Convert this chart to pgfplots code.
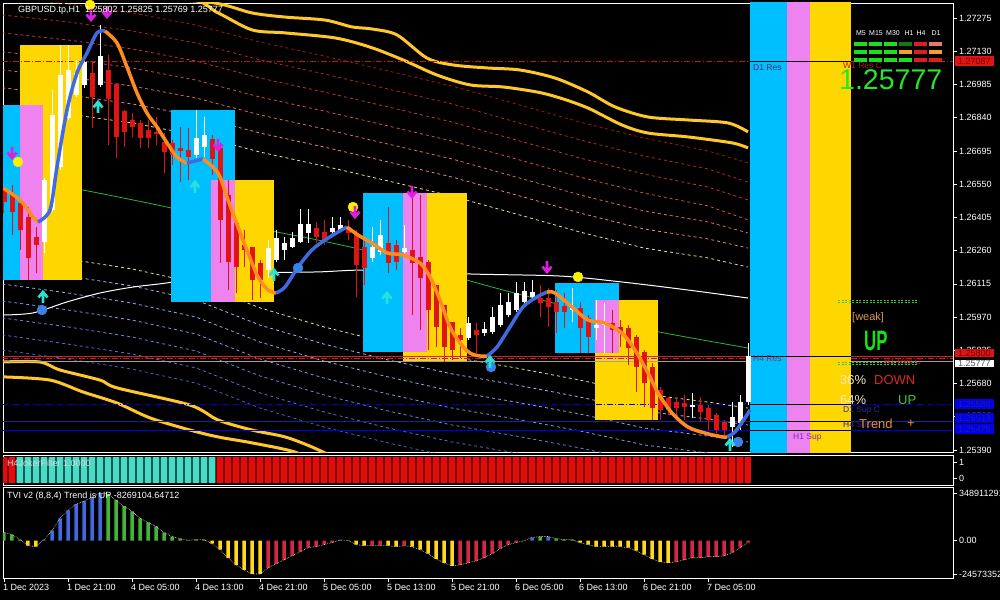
\documentclass[border=0pt]{standalone}
\usepackage{fontspec}
\setmainfont{Liberation Sans}
\usepackage{pgfplots}
\pgfplotsset{compat=1.18}
\usepackage{pgfplotstable}

\definecolor{bxcyan}{RGB}{0,191,255}
\definecolor{bxmag}{RGB}{238,130,238}
\definecolor{bxyel}{RGB}{255,215,0}
\definecolor{cred}{RGB}{225,20,20}
\definecolor{maor}{RGB}{255,140,30}
\definecolor{mabl}{RGB}{65,105,225}
\definecolor{bandy}{RGB}{255,200,40}
\definecolor{khak}{RGB}{235,225,140}
\definecolor{ra}{RGB}{240,128,128}
\definecolor{rb}{RGB}{228,100,100}
\definecolor{rc}{RGB}{215,75,75}
\definecolor{rd}{RGB}{200,50,50}
\definecolor{re}{RGB}{185,35,35}
\definecolor{rf}{RGB}{170,20,20}
\definecolor{ba}{RGB}{160,185,235}
\definecolor{bb}{RGB}{140,170,230}
\definecolor{bc}{RGB}{120,155,225}
\definecolor{bd}{RGB}{100,135,220}
\definecolor{be}{RGB}{85,115,210}
\definecolor{bf}{RGB}{70,95,200}
\definecolor{grn}{RGB}{50,180,50}
\definecolor{arrmag}{RGB}{225,30,225}
\definecolor{arrcyan}{RGB}{40,225,215}
\definecolor{dotyel}{RGB}{255,240,0}
\definecolor{dotblue}{RGB}{60,130,230}
\definecolor{jred}{RGB}{230,10,10}
\definecolor{jredd}{RGB}{110,0,0}
\definecolor{jcyan}{RGB}{72,220,200}
\definecolor{jcyand}{RGB}{20,90,80}
\definecolor{tvib}{RGB}{65,105,225}
\definecolor{tvig}{RGB}{70,180,60}
\definecolor{tviy}{RGB}{255,215,30}
\definecolor{tvir}{RGB}{210,40,70}

\pgfdeclareplotmark{darr}{%
 \pgfpathmoveto{\pgfqpoint{0pt}{6pt}}\pgfpathlineto{\pgfqpoint{0pt}{-4pt}}%
 \pgfpathmoveto{\pgfqpoint{-4.5pt}{0.5pt}}\pgfpathlineto{\pgfqpoint{0pt}{-5pt}}\pgfpathlineto{\pgfqpoint{4.5pt}{0.5pt}}%
 \pgfusepathqstroke}
\pgfdeclareplotmark{uarr}{%
 \pgfpathmoveto{\pgfqpoint{0pt}{-6pt}}\pgfpathlineto{\pgfqpoint{0pt}{4pt}}%
 \pgfpathmoveto{\pgfqpoint{-4.5pt}{-0.5pt}}\pgfpathlineto{\pgfqpoint{0pt}{5pt}}\pgfpathlineto{\pgfqpoint{4.5pt}{-0.5pt}}%
 \pgfusepathqstroke}

\pgfplotstableread{
x ub r1 r2 r3 r4 r5 r6 lb b1 b2 b3 b4 b5 b6
-0.2 1.26887 1.26970 1.27048 1.27127 1.27210 1.27288 1.27367 1.26263 1.26188 1.26114 1.26040 1.25966 1.25892 1.25826
8 1.26856 1.26939 1.27018 1.27096 1.27179 1.27258 1.27336 1.26223 1.26149 1.26075 1.26001 1.25927 1.25852 1.25787
16 1.26817 1.26900 1.26978 1.27057 1.27140 1.27218 1.27297 1.26180 1.26106 1.26031 1.25957 1.25883 1.25809 1.25743
24 1.26764 1.26847 1.26926 1.27004 1.27087 1.27166 1.27244 1.26119 1.26044 1.25970 1.25896 1.25822 1.25748 1.25682
32 1.26690 1.26773 1.26852 1.26930 1.27013 1.27092 1.27170 1.26010 1.25935 1.25861 1.25787 1.25713 1.25639 1.25573
40 1.26629 1.26712 1.26791 1.26869 1.26952 1.27031 1.27109 1.25927 1.25852 1.25778 1.25704 1.25630 1.25556 1.25490
48 1.26564 1.26647 1.26725 1.26804 1.26887 1.26965 1.27044 1.25857 1.25783 1.25709 1.25634 1.25560 1.25486 1.25421
56 1.26498 1.26581 1.26660 1.26738 1.26821 1.26900 1.26978 1.25796 1.25722 1.25647 1.25573 1.25499 1.25425 1.25359
64 1.26420 1.26503 1.26581 1.26660 1.26743 1.26821 1.26900 1.25748 1.25674 1.25599 1.25525 1.25451 1.25377 1.25311
72 1.26341 1.26424 1.26503 1.26581 1.26664 1.26743 1.26821 1.25695 1.25621 1.25547 1.25473 1.25399 1.25325 1.25259
80 1.26271 1.26354 1.26433 1.26511 1.26594 1.26673 1.26751 1.25634 1.25560 1.25486 1.25412 1.25338 1.25263 1.25198
88 1.26228 1.26311 1.26385 1.26455 1.26537 1.26616 1.26695 1.25599 1.25525 1.25451 1.25377 1.25303 1.25229 1.25163
93 1.26188 1.26271 1.26337 1.26394 1.26481 1.26559 1.26642 1.25573 1.25499 1.25425 1.25351 1.25277 1.25202 1.25137
}\bands

\pgfplotstableread{
i o h l c
5 1.26298 1.26577 1.26250 1.26568
6 1.26437 1.26961 1.26428 1.26852
7 1.26625 1.27157 1.26612 1.27026
8 1.26839 1.27157 1.26830 1.27048
9 1.26939 1.27092 1.26930 1.27035
10 1.26983 1.27114 1.26970 1.27083
12 1.26983 1.27244 1.26974 1.27109
24 1.26677 1.26874 1.26664 1.26751
25 1.26712 1.26843 1.26668 1.26764
33 1.26175 1.26306 1.26140 1.26271
34 1.26219 1.26350 1.26210 1.26315
35 1.26263 1.26319 1.26219 1.26293
36 1.26276 1.26341 1.26271 1.26315
37 1.26298 1.26442 1.26293 1.26376
38 1.26337 1.26442 1.26293 1.26376
41 1.26341 1.26407 1.26328 1.26359
42 1.26350 1.26407 1.26341 1.26372
46 1.26228 1.26363 1.26210 1.26276
47 1.26254 1.26394 1.26241 1.26328
50 1.26254 1.26372 1.26241 1.26271
58 1.25879 1.25970 1.25870 1.25944
60 1.25900 1.25948 1.25887 1.25918
61 1.25905 1.26014 1.25896 1.25970
62 1.25935 1.26075 1.25927 1.26023
63 1.25979 1.26075 1.25970 1.26036
64 1.26001 1.26123 1.25992 1.26075
65 1.26036 1.26123 1.26023 1.26084
66 1.26058 1.26132 1.26044 1.26079
71 1.26001 1.26097 1.25948 1.26010
74 1.25922 1.26044 1.25870 1.25935
75 1.25935 1.26031 1.25813 1.25944
86 1.25578 1.25639 1.25530 1.25586
91 1.25490 1.25599 1.25403 1.25534
92 1.25508 1.25630 1.25477 1.25599
93 1.25599 1.25857 1.25586 1.25802
}\up

\pgfplotstableread{
i o h l c
0 1.26524 1.26537 1.26424 1.26472
1 1.26511 1.26546 1.26328 1.26428
2 1.26468 1.26481 1.26263 1.26350
3 1.26407 1.26450 1.26132 1.26228
4 1.26319 1.26363 1.26162 1.26284
11 1.27035 1.27083 1.26795 1.26930
13 1.27048 1.27114 1.26721 1.26922
14 1.26987 1.26991 1.26664 1.26756
15 1.26869 1.26874 1.26712 1.26778
16 1.26830 1.26860 1.26756 1.26799
17 1.26817 1.26830 1.26708 1.26751
18 1.26786 1.26830 1.26708 1.26751
19 1.26778 1.26843 1.26721 1.26769
20 1.26734 1.26773 1.26599 1.26690
21 1.26730 1.26743 1.26634 1.26677
22 1.26708 1.26799 1.26559 1.26695
23 1.26699 1.26795 1.26568 1.26668
26 1.26747 1.26764 1.26590 1.26660
27 1.26708 1.26730 1.26206 1.26394
28 1.26503 1.26568 1.26088 1.26210
29 1.26380 1.26394 1.26075 1.26188
30 1.26284 1.26350 1.26188 1.26263
31 1.26276 1.26276 1.26044 1.26132
32 1.26206 1.26219 1.26053 1.26132
39 1.26359 1.26385 1.26293 1.26319
40 1.26341 1.26394 1.26284 1.26306
43 1.26363 1.26394 1.26306 1.26337
44 1.26337 1.26350 1.26058 1.26197
45 1.26276 1.26306 1.26110 1.26184
48 1.26293 1.26450 1.26162 1.26206
49 1.26284 1.26306 1.26175 1.26210
51 1.26263 1.26511 1.25979 1.26206
52 1.26232 1.26503 1.25914 1.26140
53 1.26210 1.26219 1.25826 1.26001
54 1.26110 1.26110 1.25839 1.25927
55 1.26023 1.26023 1.25774 1.25839
56 1.25948 1.25948 1.25783 1.25826
57 1.25892 1.25922 1.25791 1.25870
59 1.25914 1.25944 1.25813 1.25892
67 1.26053 1.26110 1.25970 1.26031
68 1.26053 1.26097 1.25927 1.26014
69 1.26036 1.26088 1.25900 1.25992
70 1.26018 1.26075 1.25922 1.25992
72 1.26010 1.26036 1.25813 1.25922
73 1.25966 1.25979 1.25813 1.25883
76 1.25944 1.26001 1.25813 1.25914
77 1.25927 1.25957 1.25839 1.25900
78 1.25922 1.25935 1.25761 1.25835
79 1.25883 1.25892 1.25643 1.25752
80 1.25818 1.25826 1.25578 1.25682
81 1.25752 1.25770 1.25521 1.25573
82 1.25652 1.25665 1.25521 1.25565
83 1.25617 1.25621 1.25543 1.25565
84 1.25599 1.25617 1.25530 1.25573
85 1.25595 1.25630 1.25521 1.25578
87 1.25586 1.25621 1.25512 1.25556
88 1.25573 1.25586 1.25477 1.25521
89 1.25543 1.25551 1.25464 1.25477
90 1.25512 1.25521 1.25447 1.25477
}\dn

\pgfplotstableread[row sep=\\]{i v\\ 0 1\\ 1 1\\ 27 1\\ 28 1\\ 29 1\\ 30 1\\ 31 1\\ 32 1\\ 33 1\\ 34 1\\ 35 1\\ 36 1\\ 37 1\\ 38 1\\ 39 1\\ 40 1\\ 41 1\\ 42 1\\ 43 1\\ 44 1\\ 45 1\\ 46 1\\ 47 1\\ 48 1\\ 49 1\\ 50 1\\ 51 1\\ 52 1\\ 53 1\\ 54 1\\ 55 1\\ 56 1\\ 57 1\\ 58 1\\ 59 1\\ 60 1\\ 61 1\\ 62 1\\ 63 1\\ 64 1\\ 65 1\\ 66 1\\ 67 1\\ 68 1\\ 69 1\\ 70 1\\ 71 1\\ 72 1\\ 73 1\\ 74 1\\ 75 1\\ 76 1\\ 77 1\\ 78 1\\ 79 1\\ 80 1\\ 81 1\\ 82 1\\ 83 1\\ 84 1\\ 85 1\\ 86 1\\ 87 1\\ 88 1\\ 89 1\\ 90 1\\ 91 1\\ 92 1\\ 93 1\\}\jokerred
\pgfplotstableread[row sep=\\]{i v\\ 2 1\\ 3 1\\ 4 1\\ 5 1\\ 6 1\\ 7 1\\ 8 1\\ 9 1\\ 10 1\\ 11 1\\ 12 1\\ 13 1\\ 14 1\\ 15 1\\ 16 1\\ 17 1\\ 18 1\\ 19 1\\ 20 1\\ 21 1\\ 22 1\\ 23 1\\ 24 1\\ 25 1\\ 26 1\\}\jokercyan

\pgfplotstableread[row sep=\\]{i v\\ 0 0.594e9\\ 1 0.445e9\\ 2 0.074e9\\ 3 -0.371e9\\ 4 -0.445e9\\ 5 0.07e9\\ 6 0.742e9\\ 7 1.633e9\\ 8 2.227e9\\ 9 2.673e9\\ 10 2.895e9\\ 11 3.192e9\\ 12 3.489e9\\ 13 3.415e9\\ 14 2.970e9\\ 15 2.524e9\\ 16 2.153e9\\ 17 1.633e9\\ 18 1.336e9\\ 19 1.039e9\\ 20 0.594e9\\ 21 0.297e9\\ 22 0.148e9\\ 23 0.02e9\\ 24 0.074e9\\ 25 0.074e9\\ 26 -0.223e9\\ 27 -0.668e9\\ 28 -1.262e9\\ 29 -1.782e9\\ 30 -2.153e9\\ 31 -2.450e9\\ 32 -2.450e9\\ 33 -2.004e9\\ 34 -1.708e9\\ 35 -1.411e9\\ 36 -1.114e9\\ 37 -0.817e9\\ 38 -0.520e9\\ 39 -0.445e9\\ 40 -0.297e9\\ 41 -0.148e9\\ 42 0.05e9\\ 43 0.02e9\\ 44 -0.297e9\\ 45 -0.371e9\\ 46 -0.371e9\\ 47 -0.371e9\\ 48 -0.371e9\\ 49 -0.445e9\\ 50 -0.371e9\\ 51 -0.445e9\\ 52 -0.668e9\\ 53 -0.965e9\\ 54 -1.336e9\\ 55 -1.633e9\\ 56 -1.856e9\\ 57 -1.782e9\\ 58 -1.633e9\\ 59 -1.485e9\\ 60 -1.262e9\\ 61 -0.965e9\\ 62 -0.594e9\\ 63 -0.297e9\\ 64 -0.148e9\\ 65 -0.02e9\\ 66 0.223e9\\ 67 0.297e9\\ 68 0.297e9\\ 69 0.148e9\\ 70 0.074e9\\ 71 0.074e9\\ 72 -0.148e9\\ 73 -0.297e9\\ 74 -0.445e9\\ 75 -0.445e9\\ 76 -0.445e9\\ 77 -0.445e9\\ 78 -0.520e9\\ 79 -0.742e9\\ 80 -1.039e9\\ 81 -1.336e9\\ 82 -1.559e9\\ 83 -1.633e9\\ 84 -1.559e9\\ 85 -1.411e9\\ 86 -1.262e9\\ 87 -1.262e9\\ 88 -1.188e9\\ 89 -1.188e9\\ 90 -1.114e9\\ 91 -0.891e9\\ 92 -0.520e9\\ 93 -0.148e9\\}\tvi

\pgfplotsset{
  chartaxis/.style={scale only axis, width=950pt, anchor=south west,
    xmin=-0.125, xmax=118.625,
    axis line style={draw=white, line width=0.8pt},
    tick align=outside, major tick length=4pt,
    every tick/.style={draw=white, line width=0.6pt},
    ytick pos=right, yticklabel pos=right,
    scaled y ticks=false, scaled x ticks=false,
    yticklabel style={font=\fontsize{9}{10}\selectfont, text=white, anchor=west, inner sep=0pt, xshift=2pt},
  },
  candlewick/.style={draw=none, mark=none, error bars/.cd, y dir=plus, y explicit, error mark=none,
    error bar style={draw=#1, line width=1pt}},
  candlebody/.style={draw=none, mark=none, error bars/.cd, y dir=plus, y explicit, error mark=none,
    error bar style={draw=#1, line width=5pt}},
}

\begin{document}
\begin{tikzpicture}
\useasboundingbox (0pt,0pt) rectangle (1000pt,600pt);
\fill[black] (0pt,0pt) rectangle (1000pt,600pt);

% ================= MAIN PANEL =================
\begin{axis}[chartaxis, at={(3pt,148pt)}, height=449pt,
  ymin=1.253812, ymax=1.273404, xtick=\empty,
  ytick={1.25390,1.25535,1.25680,1.25825,1.25970,1.26115,1.26260,1.26405,1.26550,1.26695,1.26840,1.26985,1.27130,1.27275},
  yticklabels={1.25390,1.25535,1.25680,1.25825,1.25970,1.26115,1.26260,1.26405,1.26550,1.26695,1.26840,1.26985,1.27130,1.27275},
  clip=true]
% envelope bands
\addplot[rf, line width=0.8pt, dash pattern=on 3pt off 3pt] table[x=x,y=r6]{\bands};
\addplot[re, line width=0.8pt, dash pattern=on 3pt off 3pt] table[x=x,y=r5]{\bands};
\addplot[rd, line width=0.8pt, dash pattern=on 3pt off 3pt] table[x=x,y=r4]{\bands};
\addplot[rc, line width=0.8pt, dash pattern=on 3pt off 3pt] table[x=x,y=r3]{\bands};
\addplot[rb, line width=0.8pt, dash pattern=on 3pt off 3pt] table[x=x,y=r2]{\bands};
\addplot[ra, line width=0.8pt, dash pattern=on 3pt off 3pt] table[x=x,y=r1]{\bands};
\addplot[khak, line width=0.8pt, dash pattern=on 3pt off 3pt] table[x=x,y=ub]{\bands};
\addplot[khak, line width=0.8pt, dash pattern=on 3pt off 3pt] table[x=x,y=lb]{\bands};
\addplot[ba, line width=0.8pt, dash pattern=on 3pt off 3pt] table[x=x,y=b1]{\bands};
\addplot[bb, line width=0.8pt, dash pattern=on 3pt off 3pt] table[x=x,y=b2]{\bands};
\addplot[bc, line width=0.8pt, dash pattern=on 3pt off 3pt] table[x=x,y=b3]{\bands};
\addplot[bd, line width=0.8pt, dash pattern=on 3pt off 3pt] table[x=x,y=b4]{\bands};
\addplot[be, line width=0.8pt, dash pattern=on 3pt off 3pt] table[x=x,y=b5]{\bands};
\addplot[bf, line width=0.8pt, dash pattern=on 3pt off 3pt] table[x=x,y=b6]{\bands};
% outer thick bands
\addplot[bandy, line width=3pt, smooth] coordinates {(-0.125,1.27388) (18.25,1.27362) (26.375,1.27340) (31,1.27297) (35.125,1.27279) (40.125,1.27266) (43.5,1.27236) (46,1.27227) (49.125,1.27201) (52.875,1.27100) (56.125,1.27070) (60.375,1.27057) (64.5,1.27048) (68.875,1.27013) (73,1.26952) (76.375,1.26887) (80.5,1.26843) (85.5,1.26830) (90.5,1.26817) (93,1.26778)};
\addplot[bandy, line width=3pt, smooth] coordinates {(-0.125,1.27441) (22,1.27367) (26.75,1.27297) (31,1.27223) (35.125,1.27210) (41.375,1.27188) (45.75,1.27148) (49.875,1.27092) (54.125,1.27026) (58.25,1.26983) (62.375,1.26974) (66.625,1.26952) (69.5,1.26926) (73,1.26882) (77.25,1.26808) (80.5,1.26773) (85.5,1.26756) (91,1.26730) (93,1.26708)};
\addplot[bandy, line width=3pt, smooth] coordinates {(-0.125,1.25774) (4.5,1.25774) (7,1.25739) (12,1.25695) (14.125,1.25661) (23.25,1.25586) (26.75,1.25521) (31,1.25477) (35.125,1.25447) (38.5,1.25403) (42,1.25346)};
\addplot[bandy, line width=3pt, smooth] coordinates {(-0.125,1.25709) (5.75,1.25695) (9.875,1.25643) (14.125,1.25595) (18.25,1.25530) (23.25,1.25477) (26.75,1.25447) (31,1.25421) (36.375,1.25381) (39.5,1.25325)};
% white and green averages
\addplot[white, line width=1pt, smooth] coordinates {(-0.125,1.25979) (3.625,1.25988) (7.875,1.26036) (12,1.26075) (16.125,1.26101) (20.375,1.26119) (24.5,1.26145) (31,1.26162) (39.25,1.26167) (45.75,1.26175) (58.25,1.26158) (69.5,1.26149) (77.25,1.26123) (85.5,1.26088) (93,1.26053)};
\addplot[grn, line width=0.8pt, smooth] coordinates {(-0.125,1.26581) (7.875,1.26537) (16.125,1.26481) (23.25,1.26428) (31,1.26363) (39.25,1.26306) (46.375,1.26250) (51.125,1.26197) (62.375,1.26088) (69.5,1.26023) (76.375,1.25948) (82.625,1.25900) (93,1.25835)};
% zone boxes
\addplot[fill=bxyel, draw=none] coordinates {(2,1.26132) (9.75,1.26132) (9.75,1.27157) (2,1.27157)};
\addplot[fill=bxmag, draw=none] coordinates {(2,1.26132) (4.875,1.26132) (4.875,1.26895) (2,1.26895)};
\addplot[fill=bxcyan, draw=none] coordinates {(-0.125,1.26132) (2,1.26132) (2,1.26895) (-0.125,1.26895)};
\addplot[fill=bxcyan, draw=none] coordinates {(20.875,1.26036) (28.875,1.26036) (28.875,1.26874) (20.875,1.26874)};
\addplot[fill=bxmag, draw=none] coordinates {(25.875,1.26036) (28.875,1.26036) (28.875,1.26568) (25.875,1.26568)};
\addplot[fill=bxyel, draw=none] coordinates {(28.875,1.26036) (33.75,1.26036) (33.75,1.26568) (28.875,1.26568)};
\addplot[fill=bxcyan, draw=none] coordinates {(44.875,1.25818) (49.875,1.25818) (49.875,1.26511) (44.875,1.26511)};
\addplot[fill=bxyel, draw=none] coordinates {(49.875,1.25774) (57.875,1.25774) (57.875,1.26511) (49.875,1.26511)};
\addplot[fill=bxmag, draw=none] coordinates {(49.875,1.25818) (52.875,1.25818) (52.875,1.26511) (49.875,1.26511)};
\addplot[fill=bxyel, draw=none] coordinates {(73.875,1.25521) (81.75,1.25521) (81.75,1.26044) (73.875,1.26044)};
\addplot[fill=bxcyan, draw=none] coordinates {(68.875,1.25813) (76.875,1.25813) (76.875,1.26119) (68.875,1.26119)};
\addplot[fill=bxmag, draw=none] coordinates {(73.875,1.25813) (76.875,1.25813) (76.875,1.26044) (73.875,1.26044)};
\addplot[fill=bxcyan, draw=none] coordinates {(93.2,1.2530) (97.875,1.2530) (97.875,1.2740) (93.2,1.2740)};
\addplot[fill=bxmag, draw=none] coordinates {(97.875,1.2530) (100.75,1.2530) (100.75,1.2740) (97.875,1.2740)};
\addplot[fill=bxyel, draw=none] coordinates {(100.75,1.2530) (105.875,1.2530) (105.875,1.2740) (100.75,1.2740)};
% support / resistance levels
\addplot[color={rgb,255:red,190;green,20;blue,20}, line width=0.8pt, dash pattern=on 6pt off 2pt on 1pt off 2pt] coordinates {(-0.2,1.27087) (93.2,1.27087)};
\addplot[color={rgb,255:red,190;green,20;blue,20}, line width=0.8pt, dash pattern=on 6pt off 2pt on 1pt off 2pt] coordinates {(105.875,1.27087) (118.7,1.27087)};
\addplot[black, line width=0.8pt] coordinates {(93.2,1.27087) (105.875,1.27087)};
\addplot[color={rgb,255:red,220;green,30;blue,30}, line width=1pt] coordinates {(-0.2,1.25800) (93.2,1.25800)};
\addplot[color={rgb,255:red,220;green,30;blue,30}, line width=1pt] coordinates {(105.875,1.25800) (118.7,1.25800)};
\addplot[color={rgb,255:red,200;green,30;blue,30}, line width=0.8pt, dash pattern=on 6pt off 2pt on 1pt off 2pt] coordinates {(-0.2,1.25790) (93.2,1.25790)};
\addplot[color={rgb,255:red,200;green,30;blue,30}, line width=0.8pt, dash pattern=on 6pt off 2pt on 1pt off 2pt] coordinates {(105.875,1.25790) (118.7,1.25790)};
\addplot[black, line width=0.8pt] coordinates {(93.2,1.25797) (105.875,1.25797)};
\addplot[color={rgb,255:red,160;green,160;blue,160}, line width=0.8pt] coordinates {(-0.2,1.25777) (93.2,1.25777)};
\addplot[color={rgb,255:red,160;green,160;blue,160}, line width=0.8pt] coordinates {(105.875,1.25777) (118.7,1.25777)};
\addplot[color={rgb,255:red,0;green,0;blue,220}, line width=0.8pt, dash pattern=on 6pt off 2pt on 1pt off 2pt] coordinates {(-0.2,1.25588) (93.2,1.25588)};
\addplot[color={rgb,255:red,0;green,0;blue,220}, line width=0.8pt, dash pattern=on 6pt off 2pt on 1pt off 2pt] coordinates {(105.875,1.25588) (118.7,1.25588)};
\addplot[color={rgb,255:red,30;green,30;blue,150}, line width=0.8pt] coordinates {(-0.2,1.25513) (93.2,1.25513)};
\addplot[color={rgb,255:red,30;green,30;blue,150}, line width=0.8pt] coordinates {(105.875,1.25513) (118.7,1.25513)};
\addplot[color={rgb,255:red,0;green,0;blue,230}, line width=0.8pt] coordinates {(-0.2,1.25475) (93.2,1.25475)};
\addplot[color={rgb,255:red,0;green,0;blue,230}, line width=0.8pt] coordinates {(105.875,1.25475) (118.7,1.25475)};
\addplot[black, line width=0.8pt] coordinates {(93.2,1.25588) (105.875,1.25588)};
\addplot[black, line width=0.8pt] coordinates {(93.2,1.25513) (105.875,1.25513)};
\addplot[black, line width=0.8pt] coordinates {(93.2,1.25475) (105.875,1.25475)};
% green dashed level pairs
\addplot[color={rgb,255:red,60;green,200;blue,60}, line width=0.8pt, dash pattern=on 2pt off 1.5pt] coordinates {(104.25,1.26044) (114.125,1.26044)};
\addplot[color={rgb,255:red,60;green,200;blue,60}, line width=0.8pt, dash pattern=on 2pt off 1.5pt] coordinates {(104.25,1.26033) (114.125,1.26033)};
\addplot[color={rgb,255:red,60;green,200;blue,60}, line width=0.8pt, dash pattern=on 2pt off 1.5pt] coordinates {(104.25,1.25774) (114.125,1.25774)};
\addplot[color={rgb,255:red,60;green,200;blue,60}, line width=0.8pt, dash pattern=on 2pt off 1.5pt] coordinates {(104.25,1.25763) (114.125,1.25763)};
% candles
\addplot[candlewick=white] table[x=i, y=l, y error expr=\thisrow{h}-\thisrow{l}] {\up};
\addplot[candlewick=cred] table[x=i, y=l, y error expr=\thisrow{h}-\thisrow{l}] {\dn};
\addplot[candlebody=white] table[x=i, y=o, y error expr=\thisrow{c}-\thisrow{o}] {\up};
\addplot[candlebody=cred] table[x=i, y=c, y error expr=\thisrow{o}-\thisrow{c}] {\dn};
% smoothed trend line
\addplot[maor, line width=3.5pt, smooth] coordinates {(-0.125,1.26533) (2,1.26481) (3.625,1.26407) (4.25,1.26385)};
\addplot[mabl, line width=3.5pt, smooth] coordinates {(4.25,1.26385) (5.75,1.26437) (6.625,1.26625) (7.875,1.26874) (9.125,1.27035) (10.375,1.27122) (11.625,1.27210) (12.625,1.27218)};
\addplot[maor, line width=3.5pt, smooth] coordinates {(12.625,1.27218) (14.125,1.27166) (15.375,1.27061) (16.625,1.26948) (17.875,1.26860) (19.125,1.26799) (20.375,1.26730) (21.625,1.26668) (22.875,1.26642)};
\addplot[mabl, line width=3.5pt, smooth] coordinates {(22.875,1.26642) (24.875,1.26660)};
\addplot[maor, line width=3.5pt, smooth] coordinates {(24.875,1.26660) (26.75,1.26599) (28,1.26481) (29.25,1.26363) (30.5,1.26250) (31.75,1.26145) (33,1.26088) (34,1.26075)};
\addplot[mabl, line width=3.5pt, smooth] coordinates {(34,1.26075) (35.125,1.26101) (36.75,1.26188) (38.5,1.26263) (40.125,1.26306) (41.75,1.26341) (42.875,1.26363)};
\addplot[maor, line width=3.5pt, smooth] coordinates {(42.875,1.26363) (44.25,1.26328) (46,1.26293) (47.875,1.26250) (49.875,1.26241) (52,1.26206) (53.25,1.26145) (54.5,1.26044) (55.75,1.25927) (57,1.25857) (58.25,1.25813) (59.5,1.25800) (60.375,1.25800)};
\addplot[mabl, line width=3.5pt, smooth] coordinates {(60.375,1.25800) (61.625,1.25839) (63.25,1.25927) (64.875,1.26014) (66.625,1.26058) (67.875,1.26079)};
\addplot[maor, line width=3.5pt, smooth] coordinates {(67.875,1.26079) (68.875,1.26075) (71,1.26014) (73,1.25957) (75.125,1.25944) (77.25,1.25900) (78.875,1.25826) (80.5,1.25726) (81.75,1.25639) (83.5,1.25551) (85.5,1.25490) (87.625,1.25464) (89.75,1.25447) (90.375,1.25447)};
\addplot[mabl, line width=3.5pt, smooth] coordinates {(90.375,1.25447) (91.375,1.25469) (92.625,1.25530) (93.25,1.25565)};
% signal markers
\addplot[only marks, mark=*, mark size=5pt, mark options={fill=dotyel, draw=dotyel}] coordinates {(1.75,1.26647) (10.75,1.27332) (43.625,1.26450) (71.75,1.26145)};
\addplot[only marks, mark=*, mark size=5pt, mark options={fill=dotblue, draw=dotblue}] coordinates {(4.75,1.26001) (36.75,1.26184) (60.875,1.25752) (91.75,1.25425)};
\addplot[only marks, mark=darr, mark options={draw=arrmag, line width=2.6pt}] coordinates {(1,1.26686) (10.875,1.27288) (12.875,1.27301) (26.75,1.26721) (51,1.26516) (43.875,1.26428) (67.875,1.26188)};
\addplot[only marks, mark=uarr, mark options={draw=arrcyan, line width=2.6pt}] coordinates {(4.875,1.26058) (11.75,1.26887) (23.875,1.26538) (33.75,1.26154) (47.875,1.26053) (60.75,1.25774) (90.75,1.25412)};
\end{axis}

% ================= JOKER FILTER PANEL =================
\begin{axis}[chartaxis, at={(3pt,115pt)}, height=30pt,
  ymin=-0.4375, ymax=1.4375, xtick=\empty, ytick={0,1}, yticklabels={0,1}, clip=true]
\addplot[fill=jredd, draw=none] coordinates {(-0.5,-0.3125) (93.4,-0.3125) (93.4,1.3125) (-0.5,1.3125)};
\addplot[fill=jcyand, draw=none] coordinates {(1.5,-0.3125) (26.5,-0.3125) (26.5,1.3125) (1.5,1.3125)};
\addplot[draw=none, mark=none, error bars/.cd, y dir=plus, y explicit, error mark=none, error bar style={draw=jred, line width=5.5pt}] table[x=i, y expr=\thisrow{v}-1.3125, y error expr=1.625] {\jokerred};
\addplot[draw=none, mark=none, error bars/.cd, y dir=plus, y explicit, error mark=none, error bar style={draw=jcyan, line width=5.5pt}] table[x=i, y expr=\thisrow{v}-1.3125, y error expr=1.625] {\jokercyan};
\end{axis}

% ================= TVI PANEL =================
\begin{axis}[chartaxis, at={(3pt,22pt)}, height=91pt,
  ymin=-2.747e9, ymax=3.935e9,
  ytick={-2.457e9,0,3.489e9}, yticklabels={-2457335247,0.00,3489112915},
  xtick={0,8,16,24,32,40,48,56,64,72,80,88}, xtick pos=bottom,
  xticklabels={1 Dec 2023,1 Dec 21:00,4 Dec 05:00,4 Dec 13:00,4 Dec 21:00,5 Dec 05:00,5 Dec 13:00,5 Dec 21:00,6 Dec 05:00,6 Dec 13:00,6 Dec 21:00,7 Dec 05:00},
  xticklabel style={font=\fontsize{9}{10}\selectfont, text=white, anchor=north west, inner sep=0pt, xshift=-1pt, yshift=-2pt},
  clip=true]
\addplot[ybar, bar width=3.5pt, bar shift=0pt, fill=tvib, draw=none] coordinates {(5,0.07e9) (6,0.742e9) (7,1.633e9) (8,2.227e9) (9,2.673e9) (10,2.895e9) (11,3.192e9) (12,3.489e9) (42,0.05e9) (66,0.223e9) (68,0.297e9)};
\addplot[ybar, bar width=3.5pt, bar shift=0pt, fill=tvig, draw=none] coordinates {(0,0.594e9) (1,0.445e9) (2,0.074e9) (13,3.415e9) (14,2.970e9) (15,2.524e9) (16,2.153e9) (17,1.633e9) (18,1.336e9) (19,1.039e9) (20,0.594e9) (21,0.297e9) (22,0.148e9) (23,0.02e9) (24,0.074e9) (25,0.074e9) (43,0.02e9) (67,0.297e9) (69,0.148e9) (70,0.074e9) (71,0.074e9)};
\addplot[ybar, bar width=3.5pt, bar shift=0pt, fill=tviy, draw=none] coordinates {(3,-0.371e9) (4,-0.445e9) (26,-0.223e9) (27,-0.668e9) (28,-1.262e9) (29,-1.782e9) (30,-2.153e9) (31,-2.450e9) (32,-2.450e9) (44,-0.297e9) (45,-0.371e9) (48,-0.371e9) (49,-0.445e9) (51,-0.445e9) (52,-0.668e9) (53,-0.965e9) (54,-1.336e9) (55,-1.633e9) (56,-1.856e9) (72,-0.148e9) (73,-0.297e9) (74,-0.445e9) (75,-0.445e9) (76,-0.445e9) (77,-0.445e9) (78,-0.520e9) (79,-0.742e9) (80,-1.039e9) (81,-1.336e9) (82,-1.559e9) (83,-1.633e9)};
\addplot[ybar, bar width=3.5pt, bar shift=0pt, fill=tvir, draw=none] coordinates {(33,-2.004e9) (34,-1.708e9) (35,-1.411e9) (36,-1.114e9) (37,-0.817e9) (38,-0.520e9) (39,-0.445e9) (40,-0.297e9) (41,-0.148e9) (46,-0.371e9) (47,-0.371e9) (50,-0.371e9) (57,-1.782e9) (58,-1.633e9) (59,-1.485e9) (60,-1.262e9) (61,-0.965e9) (62,-0.594e9) (63,-0.297e9) (64,-0.148e9) (65,-0.02e9) (84,-1.559e9) (85,-1.411e9) (86,-1.262e9) (87,-1.262e9) (88,-1.188e9) (89,-1.188e9) (90,-1.114e9) (91,-0.891e9) (92,-0.520e9) (93,-0.148e9)};
\addplot[color={rgb,255:red,235;green,225;blue,170}, line width=0.6pt, densely dotted] table[x=i, y=v] {\tvi};
\end{axis}

% ================= TEXT AND LABELS =================
\node[anchor=west, inner sep=0pt, text=white, font=\fontsize{9}{10}\selectfont] at (18pt,590pt) {GBPUSD.tp,H1\ \ 1.25802 1.25825 1.25769 1.25777};
\node[anchor=west, inner sep=0pt, text={rgb,255:red,215;green,215;blue,215}, font=\fontsize{9}{10}\selectfont] at (7pt,137pt) {H4JokerFilter 1.0000};
\node[anchor=west, inner sep=0pt, text=white, font=\fontsize{9}{10}\selectfont] at (7pt,104pt) {TVI v2 (8,8,4) Trend is UP -8269104.64712};

% level captions
\node[anchor=west, inner sep=0pt, text={rgb,255:red,90;green,40;blue,100}, font=\fontsize{8.5}{10}\selectfont] at (753pt,532pt) {D1 Res};
\node[anchor=west, inner sep=0pt, text={rgb,255:red,175;green,30;blue,30}, font=\fontsize{8.5}{10}\selectfont] at (843pt,534pt) {W1 Res C};
\node[anchor=west, inner sep=0pt, text={rgb,255:red,110;green,60;blue,110}, font=\fontsize{8.5}{10}\selectfont] at (753pt,241pt) {H4 Res};
\node[anchor=west, inner sep=0pt, text={rgb,255:red,200;green,30;blue,30}, font=\fontsize{8.5}{10}\selectfont] at (884pt,238pt) {H1 Res C};
\node[anchor=west, inner sep=0pt, text={rgb,255:red,40;green,40;blue,170}, font=\fontsize{8.5}{10}\selectfont] at (843pt,190pt) {D1 Sup C};
\node[anchor=west, inner sep=0pt, text={rgb,255:red,40;green,40;blue,170}, font=\fontsize{8.5}{10}\selectfont] at (843pt,175pt) {H4 Sup C};
\node[anchor=west, inner sep=0pt, text={rgb,255:red,130;green,40;blue,200}, font=\fontsize{8.5}{10}\selectfont] at (793pt,163pt) {H1 Sup};

% big price
\node[anchor=west, inner sep=0pt, text={rgb,255:red,40;green,230;blue,40}, font=\fontsize{28.5}{30}\selectfont] at (839pt,520pt) {1.25777};

% MTF dashboard
\foreach \lab/\cx in {M5/861,M15/876,M30/893,H1/909,H4/921,D1/936}
  \node[inner sep=0pt, text=white, font=\fontsize{7}{8}\selectfont] at (\cx pt,567pt) {\lab};
\foreach \col/\xa in {{rgb,255:red,30;green,220;blue,30}/854,{rgb,255:red,30;green,220;blue,30}/869,{rgb,255:red,30;green,220;blue,30}/884,{rgb,255:red,20;green,120;blue,20}/899,{rgb,255:red,220;green,30;blue,30}/914,{rgb,255:red,230;green,120;blue,110}/929}
  \fill[color=\col] (\xa pt,554pt) rectangle ++(13pt,4pt);
\foreach \col/\xa in {{rgb,255:red,30;green,220;blue,30}/854,{rgb,255:red,30;green,220;blue,30}/869,{rgb,255:red,30;green,220;blue,30}/884,{rgb,255:red,240;green,160;blue,40}/899,{rgb,255:red,220;green,30;blue,30}/914,{rgb,255:red,240;green,160;blue,40}/929}
  \fill[color=\col] (\xa pt,546pt) rectangle ++(13pt,4pt);
\foreach \col/\xa in {{rgb,255:red,30;green,220;blue,30}/854,{rgb,255:red,30;green,220;blue,30}/869,{rgb,255:red,30;green,220;blue,30}/884,{rgb,255:red,30;green,220;blue,30}/899,{rgb,255:red,220;green,30;blue,30}/914,{rgb,255:red,220;green,30;blue,30}/929}
  \fill[color=\col] (\xa pt,538pt) rectangle ++(13pt,4pt);

% trend panel
\node[anchor=west, inner sep=0pt, text={rgb,255:red,215;green,150;blue,85}, font=\fontsize{11}{12}\selectfont] at (852pt,282pt) {[weak]};
\node[anchor=west, inner sep=0pt, text={rgb,255:red,20;green,230;blue,20}, font=\fontsize{28}{28}\bfseries\selectfont, xscale=0.6] at (864pt,259pt) {UP};
\node[anchor=west, inner sep=0pt, text={rgb,255:red,240;green,230;blue,205}, font=\fontsize{13}{14}\selectfont] at (840pt,220pt) {36\%};
\node[anchor=west, inner sep=0pt, text={rgb,255:red,220;green,40;blue,40}, font=\fontsize{13}{14}\selectfont] at (874pt,220pt) {DOWN};
\node[anchor=west, inner sep=0pt, text={rgb,255:red,240;green,230;blue,205}, font=\fontsize{13}{14}\selectfont] at (840pt,200pt) {64\%};
\node[anchor=west, inner sep=0pt, text={rgb,255:red,60;green,200;blue,60}, font=\fontsize{13}{14}\selectfont] at (898pt,200pt) {UP};
\node[anchor=west, inner sep=0pt, text={rgb,255:red,230;green,140;blue,60}, font=\fontsize{13}{14}\selectfont] at (859pt,176pt) {Trend};
\node[anchor=west, inner sep=0pt, text={rgb,255:red,230;green,140;blue,60}, font=\fontsize{13}{14}\selectfont] at (907pt,176pt) {+};

% price tags on right scale
\node[anchor=west, fill={rgb,255:red,225;green,20;blue,20}, text={rgb,255:red,120;green,0;blue,0}, inner xsep=3pt, inner ysep=1.5pt, font=\fontsize{9}{10}\selectfont] at (955pt,539pt) {1.27087};
\node[anchor=west, fill={rgb,255:red,225;green,20;blue,20}, text={rgb,255:red,120;green,0;blue,0}, inner xsep=3pt, inner ysep=0.8pt, font=\fontsize{9}{10}\selectfont] at (955pt,247pt) {1.25800};
\node[anchor=west, fill=white, text={rgb,255:red,90;green,90;blue,90}, inner xsep=3pt, inner ysep=0.6pt, font=\fontsize{9}{10}\selectfont] at (955pt,236.5pt) {1.25777};
\node[anchor=west, fill={rgb,255:red,0;green,0;blue,235}, text={rgb,255:red,30;green,30;blue,150}, inner xsep=3pt, inner ysep=1.5pt, font=\fontsize{9}{10}\selectfont] at (955pt,196pt) {1.25588};
\node[anchor=west, fill={rgb,255:red,0;green,0;blue,235}, text={rgb,255:red,30;green,30;blue,150}, inner xsep=3pt, inner ysep=1.5pt, font=\fontsize{9}{10}\selectfont] at (955pt,182pt) {1.25513};
\node[anchor=west, fill={rgb,255:red,0;green,0;blue,235}, text={rgb,255:red,30;green,30;blue,150}, inner xsep=3pt, inner ysep=1.5pt, font=\fontsize{9}{10}\selectfont] at (955pt,171pt) {1.25475};
\end{tikzpicture}
\end{document}
